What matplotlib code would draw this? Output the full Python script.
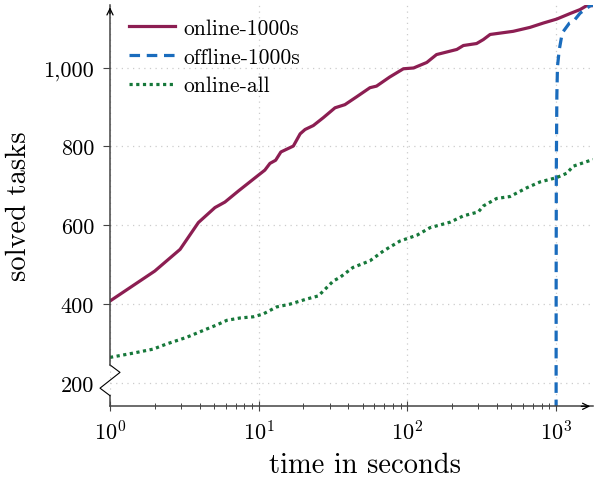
import matplotlib
matplotlib.use("Agg")
import matplotlib.pyplot as plt
import matplotlib.transforms as mtransforms
from matplotlib.ticker import FixedLocator, LogLocator, FuncFormatter, NullFormatter

# values (time in s, solved tasks)
online_1000s_t = [1, 2.0, 2.96, 3.93, 5.08, 5.93, 7.3, 9.94, 11, 11.9, 13, 14.1,
                  17.1, 19, 20.5, 23.3, 27.2, 32.6, 38, 45.6, 56, 62, 76, 94,
                  110, 135, 157, 215, 238, 292, 324, 360, 515, 668, 821, 1009,
                  1240, 1447, 1607, 1770]
online_1000s_v = [408, 484, 539, 607, 645, 659, 687, 727, 740, 757, 765, 786,
                  801, 832, 843, 853, 873, 898, 906, 926, 949, 953, 976, 997,
                  999, 1013, 1033, 1046, 1056, 1061, 1071, 1084, 1092, 1102, 1113, 1123,
                  1137, 1147, 1157, 1157]

offline_1000s_t = [1000, 1001, 1004, 1012, 1022, 1050, 1100, 1230, 1307, 1450, 1600, 1700, 1770]
offline_1000s_v = [0, 450, 750, 930, 1003, 1045, 1088, 1113, 1117, 1138, 1150, 1157, 1158]

online_all_t = [1, 1.44, 1.95, 2.4, 3.28, 4.47, 5.2, 6.1, 7.5, 9.2, 10.7, 13.2,
                16.2, 21, 25.2, 31.8, 35.2, 43, 56, 69, 89, 116, 142, 194,
                238, 300, 324, 398, 490, 634, 780, 1009, 1178, 1306, 1563, 1770]
online_all_v = [265, 276, 286, 299, 316, 337, 347, 359, 365, 368, 375, 393,
                400, 413, 421, 459, 468, 493, 510, 535, 560, 575, 594, 608,
                624, 634, 649, 668, 673, 695, 710, 721, 732, 750, 760, 767]

series_labels = ["online-1000s", "offline-1000s", "online-all"]
y_ticks = [200, 400, 600, 800, 1000]

plt.rcParams["font.family"] = "serif"
plt.rcParams["font.serif"] = ["cmr10", "DejaVu Serif"]
plt.rcParams["mathtext.fontset"] = "cm"
plt.rcParams["axes.formatter.use_mathtext"] = True
plt.rcParams["axes.unicode_minus"] = False

RED = "#8c1e52"
BLUE = "#1a6cbd"
GREEN = "#16783a"
AXIS = "#444444"

fig = plt.figure(figsize=(5.95, 4.81), dpi=100)
ax = fig.add_axes([110 / 595, (481 - 407.3) / 481, 483 / 595, 401.8 / 481])

ax.plot(online_1000s_t, online_1000s_v, color=RED, lw=2.3, label=series_labels[0])
ax.plot(offline_1000s_t, offline_1000s_v, color=BLUE, lw=2.3, ls=(0, (3.3, 2.1)),
        label=series_labels[1])
ax.plot(online_all_t, online_all_v, color=GREEN, lw=2.3, ls=(0, (1, 1.1)),
        label=series_labels[2])

ax.set_xscale("log")
ax.set_xlim(1, 1771)
ax.set_ylim(141, 1160)

ax.xaxis.set_major_locator(LogLocator(base=10, numticks=10))
ax.xaxis.set_minor_locator(LogLocator(base=10, subs=range(2, 10), numticks=50))
ax.xaxis.set_minor_formatter(NullFormatter())
ax.yaxis.set_major_locator(FixedLocator(y_ticks))
ax.yaxis.set_major_formatter(FuncFormatter(lambda v, _: f"{int(v):,}"))

ax.tick_params(axis="x", which="major", direction="inout", length=7, width=0.8,
               color=AXIS, labelsize=16, pad=6)
ax.tick_params(axis="x", which="minor", direction="inout", length=4.5, width=0.7,
               color=AXIS)
ax.tick_params(axis="y", which="major", direction="out", length=5, width=0.8,
               color=AXIS, labelsize=16, pad=6.5)
ax.yaxis.get_major_ticks()[0].tick1line.set_visible(False)

ax.grid(True, which="major", color="#cccccc", ls=(0, (1, 3.5)), lw=0.9)
ax.set_axisbelow(True)

for side in ("top", "right", "left"):
    ax.spines[side].set_visible(False)
ax.spines["bottom"].set_color(AXIS)
ax.spines["bottom"].set_linewidth(1.1)

# y axis with crunch
trans = mtransforms.blended_transform_factory(ax.transAxes, ax.transData)
dx = 10 / 483
ax.plot([0, 0], [141, 168], color=AXIS, lw=1.1, transform=trans, clip_on=False)
ax.plot([0, -dx, dx, 0], [168, 187, 227, 246], color="black", lw=0.8,
        transform=trans, clip_on=False)
ax.plot([0, 0], [246, 1160], color=AXIS, lw=1.1, transform=trans, clip_on=False)

# axis arrows
arrow = dict(arrowstyle="->,head_length=0.45,head_width=0.22", color="black", lw=0.9)
ax.annotate("", xy=(0, 1.0), xytext=(0, 0.97), xycoords="axes fraction", arrowprops=arrow)
ax.annotate("", xy=(1.0, 0), xytext=(0.97, 0), xycoords="axes fraction", arrowprops=arrow)

ax.set_xlabel("time in seconds", fontsize=20.5, labelpad=6)
ax.set_ylabel("solved tasks", fontsize=20.5, labelpad=8)
ax.xaxis.label.set_x(0.528)
ax.yaxis.label.set_y(0.5)

ax.legend(loc="upper left", bbox_to_anchor=(0.018, 0.992), frameon=False, fontsize=15.5,
          handlelength=2.1, handletextpad=0.4, labelspacing=0.42, borderaxespad=0.1)

fig.savefig("out.png", dpi=100)
